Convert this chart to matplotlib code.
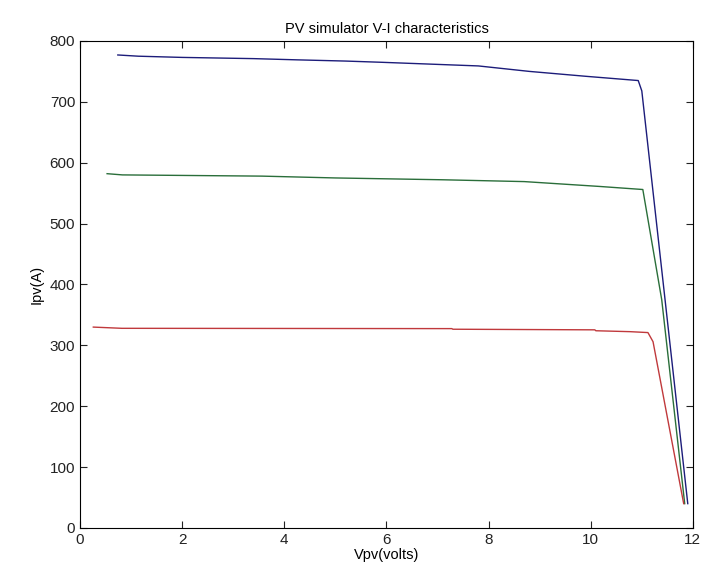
import matplotlib
matplotlib.use('Agg')
import matplotlib.pyplot as plt

v_blue = [0.74, 1.14, 2, 3.4, 4.25, 5.2, 5.9, 7.8, 8.8, 9.9, 10.93, 11.0, 11.9]
i_blue = [777, 775, 773, 771, 769, 767, 765, 759, 750, 742, 735, 718, 40]

v_green = [0.53, 0.83, 3.56, 5.0, 7.1, 8.7, 9.44, 10.18, 11.02, 11.39, 11.84]
i_green = [582, 580, 578, 575, 572, 569, 565, 561, 556, 375, 40]

v_red = [0.26, 0.82, 7.28, 7.3, 10.08, 10.1, 10.77, 11.12, 11.22, 11.82]
i_red = [330, 328, 327.5, 326.5, 325.5, 324, 322.5, 321, 306, 40]

plt.rcParams['font.family'] = ['Liberation Sans', 'DejaVu Sans']
plt.rcParams['font.size'] = 10.5

fig = plt.figure(figsize=(7.02, 5.82), dpi=100)
ax = fig.add_axes([0.114, 0.0928, 0.873, 0.8368])

ax.plot(v_blue, i_blue, color='#1c1c7a', linewidth=1.0)
ax.plot(v_green, i_green, color='#2a6e3a', linewidth=1.0)
ax.plot(v_red, i_red, color='#c0393c', linewidth=1.0)

ax.set_xlim(0, 12)
ax.set_ylim(0, 800)
ax.set_xticks(range(0, 13, 2))
ax.set_yticks(range(0, 801, 100))
ax.tick_params(direction='in', top=True, right=True, length=5, colors='#222222',
               labelsize=11)
ax.set_title('PV simulator V-I characteristics', fontsize=10.5, pad=6)
ax.set_xlabel('Vpv(volts)', labelpad=1)
ax.set_ylabel('Ipv(A)', labelpad=4)

fig.savefig('out.png', dpi=100)
